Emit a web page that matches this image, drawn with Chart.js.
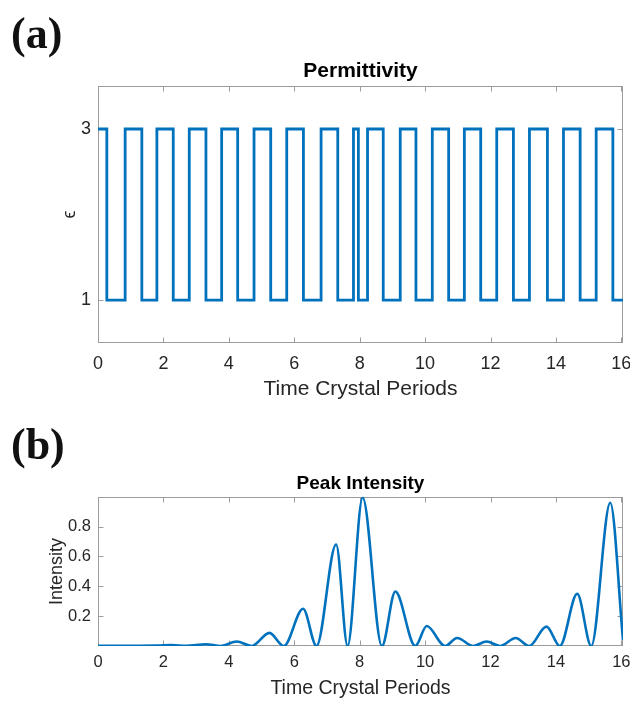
<!DOCTYPE html>
<html>
<head>
<meta charset="utf-8">
<script src="https://cdn.jsdelivr.net/npm/chart.js@4"></script>
<style>
  body { margin: 0; background: #fff; }
  #wrap { position: relative; width: 630px; height: 701px; overflow: hidden; }
  canvas { position: absolute; left: 0; }
  .panel { position: absolute; left: 11px; font-family: "Liberation Serif", "DejaVu Serif", serif; font-weight: bold; font-size: 44px; line-height: 1; color: #111; }
</style>
</head>
<body>
<div id="wrap">
  <canvas id="permChart" width="630" height="410" style="top:0"></canvas>
  <canvas id="peakChart" width="630" height="291" style="top:410px"></canvas>
  <div class="panel" style="top:12px">(a)</div>
  <div class="panel" style="top:423px">(b)</div>
</div>
<script>
// permittivity: switching times (crystal periods) and level from that time on
const epsTimes = [0, 0.27, 0.83, 1.34, 1.80, 2.30, 2.79, 3.30, 3.78, 4.27, 4.77, 5.28, 5.77, 6.28, 6.82, 7.33,
  7.81, 7.96, 8.24, 8.72, 9.24, 9.72, 10.22, 10.72, 11.20, 11.70, 12.19, 12.70, 13.19, 13.74, 14.23, 14.74,
  15.23, 15.74, 16.05];
const epsLevels = [3, 1, 3, 1, 3, 1, 3, 1, 3, 1, 3, 1, 3, 1, 3, 1,
  3, 1, 3, 1, 3, 1, 3, 1, 3, 1, 3, 1, 3, 1, 3, 1,
  3, 1, 1];

// peak intensity, read at maxima / minima
const intTimes = [0, 1.0, 1.8, 2.25, 2.7, 3.3, 3.75, 4.24, 4.7, 5.24, 5.68, 6.27, 6.68, 7.28, 7.63, 8.09,
  8.68, 9.09, 9.70, 10.05, 10.61, 10.98, 11.47, 11.88, 12.29, 12.77, 13.18, 13.71, 14.12, 14.65, 15.08,
  15.66, 16.05];
const intValues = [0.002, 0.002, 0.003, 0.006, 0.001, 0.012, 0.0, 0.03, 0.0, 0.088, 0.0, 0.25, 0.0, 0.68, 0.0, 0.995,
  0.0, 0.365, 0.0, 0.134, 0.0, 0.054, 0.0, 0.03, 0.0, 0.054, 0.0, 0.13, 0.0, 0.35, 0.0,
  0.96, 0.04];

const xTicks = [0, 2, 4, 6, 8, 10, 12, 14, 16];
const epsTicks = [1, 3];
const intTicks = [0.2, 0.4, 0.6, 0.8];

const lineColor = '#0072BD';
Chart.defaults.font.family = "'Liberation Sans', Arial, sans-serif";
Chart.defaults.color = '#262626';

// box around the plot with inward ticks, like matlab
const boxPlugin = {
  id: 'box',
  beforeDatasetsDraw(chart) {
    const { ctx, chartArea: a, scales } = chart;
    const L = Math.round(a.left) + 0.5, R = Math.round(a.right) - 0.5;
    const T = Math.round(a.top) + 0.5, B = Math.round(a.bottom) - 0.5;
    const t = 5;
    ctx.save();
    ctx.strokeStyle = '#9c9c9c';
    ctx.lineWidth = 1;
    ctx.strokeRect(L, T, R - L, B - T);
    ctx.beginPath();
    scales.x.ticks.forEach(k => {
      const px = Math.round(scales.x.getPixelForValue(k.value)) + 0.5;
      ctx.moveTo(px, B); ctx.lineTo(px, B - t);
      ctx.moveTo(px, T); ctx.lineTo(px, T + t);
    });
    scales.y.ticks.forEach(k => {
      const py = Math.round(scales.y.getPixelForValue(k.value)) + 0.5;
      ctx.moveTo(L, py); ctx.lineTo(L + t, py);
      ctx.moveTo(R, py); ctx.lineTo(R - t, py);
    });
    ctx.stroke();
    ctx.restore();
  }
};

function fixTicks(list) {
  return scale => { scale.ticks = list.map(v => ({ value: v })); };
}
function fixSize(prop, size) {
  return scale => {
    scale[prop] = size;
    scale.paddingLeft = 0; scale.paddingRight = 0;
    scale.paddingTop = 0; scale.paddingBottom = 0;
  };
}

function makeChart(id, cfg) {
  return new Chart(document.getElementById(id), {
    type: 'line',
    data: { datasets: [cfg.dataset] },
    options: {
      responsive: false,
      animation: false,
      layout: { padding: { left: 0, right: 7, top: 0, bottom: 0 } },
      plugins: {
        legend: { display: false },
        tooltip: { enabled: false },
        title: {
          display: true,
          fullSize: false,
          text: cfg.title,
          font: { size: cfg.titleSize, weight: 'bold' },
          color: '#000',
          padding: cfg.titlePad
        }
      },
      scales: {
        x: {
          type: 'linear',
          min: 0, max: 16.05,
          grid: { display: false, tickLength: 0 },
          border: { display: false },
          ticks: { font: { size: cfg.tickSize }, padding: cfg.xTickPad, maxRotation: 0 },
          afterBuildTicks: fixTicks(xTicks),
          afterFit: fixSize('height', cfg.xHeight),
          title: {
            display: true,
            text: 'Time Crystal Periods',
            font: { size: cfg.labelSize },
            padding: { top: 0, bottom: cfg.xTitlePad }
          }
        },
        y: {
          type: 'linear',
          min: cfg.yMin, max: cfg.yMax,
          grid: { display: false, tickLength: 0 },
          border: { display: false },
          ticks: { font: { size: cfg.tickSize }, padding: 7 },
          afterBuildTicks: fixTicks(cfg.yTicks),
          afterFit: fixSize('width', 98),
          title: {
            display: true,
            text: cfg.yTitle,
            font: { size: 18 },
            padding: { top: cfg.yTitlePad, bottom: 0 }
          }
        }
      }
    },
    plugins: [boxPlugin]
  });
}

makeChart('permChart', {
  title: 'Permittivity',
  titleSize: 21,
  titlePad: { top: 59, bottom: 2 },
  tickSize: 18,
  labelSize: 21,
  xTickPad: 10,
  xHeight: 67,
  xTitlePad: 8,
  yMin: 0.5, yMax: 3.5,
  yTicks: epsTicks,
  yTitle: 'ϵ',
  yTitlePad: 59,
  dataset: {
    data: epsTimes.map((t, i) => ({ x: t, y: epsLevels[i] })),
    stepped: true,
    borderColor: lineColor,
    borderWidth: 2.8,
    pointRadius: 0,
    fill: false
  }
});

makeChart('peakChart', {
  title: 'Peak Intensity',
  titleSize: 19,
  titlePad: { top: 62, bottom: 2 },
  tickSize: 16.5,
  labelSize: 19.5,
  xTickPad: 7,
  xHeight: 55,
  xTitlePad: 1,
  yMin: 0, yMax: 1,
  yTicks: intTicks,
  yTitle: 'Intensity',
  yTitlePad: 46,
  dataset: {
    data: intTimes.map((t, i) => ({ x: t, y: intValues[i] })),
    cubicInterpolationMode: 'monotone',
    borderColor: lineColor,
    borderWidth: 2.6,
    pointRadius: 0,
    fill: false
  }
});
</script>
</body>
</html>
